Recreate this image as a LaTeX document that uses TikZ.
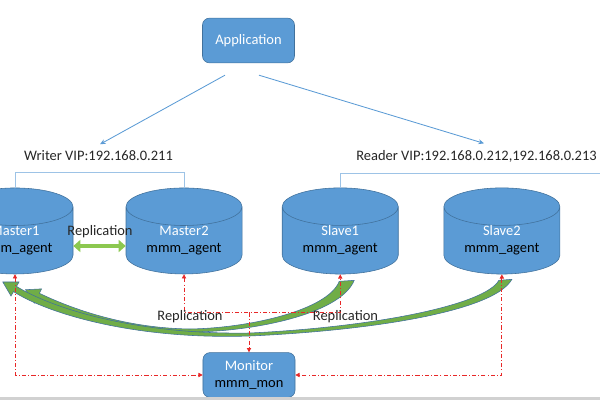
\documentclass[tikz,border=0pt]{standalone}
\usepackage{fontspec}
\setmainfont{Carlito}
\usepackage{tikz}
\usetikzlibrary{shapes.geometric, arrows.meta, positioning, calc}
\definecolor{dbblue}{RGB}{91,155,213}
\definecolor{dbline}{RGB}{65,113,156}
\definecolor{viplink}{RGB}{157,195,230}
\definecolor{monred}{RGB}{232,40,40}
\definecolor{replgreen}{RGB}{112,173,71}
\definecolor{repllight}{RGB}{140,200,80}
\newcommand{\diagfont}{\fontsize{10.3}{12.1}\selectfont}
\tikzset{
  boxnode/.style={
    rectangle, rounded corners=5pt, minimum width=2.3cm, minimum height=1.12cm,
    draw=dbline, fill=dbblue, align=center, font=\diagfont, inner sep=1pt
  },
  dbnode/.style={
    cylinder, shape border rotate=90, aspect=0.5, minimum width=2.9cm,
    minimum height=2.15cm, draw=dbline, fill=dbblue, align=center,
    font=\diagfont, inner sep=0pt
  },
  viptext/.style={font=\diagfont, inner sep=1pt, text=black!85},
  repltext/.style={font=\diagfont, inner sep=1pt, text=black!85},
  apparrow/.style={-{Stealth[length=4pt,width=3.5pt]}, draw=dbblue, line width=0.6pt},
  vipline/.style={draw=viplink, line width=0.7pt},
  monlink/.style={{Triangle[length=3pt,width=3pt]}-{Triangle[length=3pt,width=3pt]},
    draw=monred, line width=0.6pt, dash pattern=on 3pt off 1.5pt on 0.7pt off 1.5pt},
  monhead/.style={-{Triangle[length=3pt,width=3pt]},
    draw=monred, line width=0.6pt, dash pattern=on 3pt off 1.5pt on 0.7pt off 1.5pt},
  replarrow/.style={{Triangle[length=5pt,width=8.5pt]}-{Triangle[length=5pt,width=8.5pt]},
    draw=repllight, line width=3.5pt},
  replband/.style={fill=replgreen, draw=dbline, line width=0.4pt}
}
\begin{document}
\begin{tikzpicture}[x=0.025cm, y=-0.025cm]
  \useasboundingbox (0,0) rectangle (600,400);
  \clip (0,0) rectangle (600,400);

  % Application and VIPs
  \node[boxnode] (app) at (248.5,40.5) {\textcolor{white}{Application}};
  \node[viptext] (wvip) at (98.5,156) {Writer VIP:192.168.0.211};
  \node[viptext] (rvip) at (476.5,156) {Reader VIP:192.168.0.212,192.168.0.213};

  % Databases
  \node[dbnode] (m1) at (15,240.5) {\textcolor{white}{Master1}\\mmm\_agent};
  \node[dbnode, right=1.31cm of m1] (m2) {\textcolor{white}{Master2}\\mmm\_agent};
  \node[dbnode, right=0.99cm of m2] (s1) {\textcolor{white}{Slave1}\\mmm\_agent};
  \node[dbnode, right=1.125cm of s1] (s2) {\textcolor{white}{Slave2}\\mmm\_agent};

  % Monitor
  \node[boxnode] (mon) at (249,375) {\textcolor{white}{Monitor}\\mmm\_mon};
  \coordinate (bus) at ($(mon.north)+(0,-40)$);
  \coordinate (redge) at (600,173);

  % Application -> VIPs
  \draw[apparrow] ([shift={(-23.5,12)}]app.south) -- ([shift={(1.5,-5)}]wvip.north);
  \draw[apparrow] ([shift={(10.5,12)}]app.south) -- ([shift={(7.5,-5)}]rvip.north);
  \draw[vipline] (m1.north) -- ++(0,-15) -| (m2.north);
  \draw[vipline] (s1.north) |- (redge);

  % Replication master1 <-> master2
  \draw[replarrow] ([shift={(0,5.5)}]m1.east) -- ([shift={(0,5.5)}]m2.west);
  \node[repltext] (rep0) at (100,232) {Replication};

  % Replication slaves <- master1
  \fill[replband] ([shift={(14,6)}]s1.south)
    .. controls (340,315) and (250,332) .. (190,332)
    .. controls (120,332) and (64,311) .. (36.6,298.7)
    -- (34.4,303.1) -- (25.5,289.7) -- (41.6,288.9) -- (39.4,293.3)
    .. controls (66,306) and (120,328) .. (190,329)
    .. controls (250,328) and (328,310) .. ([shift={(-1,7)}]s1.south) -- cycle;
  \fill[replband] ([shift={(10,5)}]s2.south)
    .. controls (495,310) and (380,330) .. (250,336)
    .. controls (130,340) and (45,312) .. (13.5,291.6)
    -- (11,296) -- (2.8,282) -- (19,282) -- (16.5,286.4)
    .. controls (48,306) and (130,335) .. (250,333)
    .. controls (375,327) and (485,305) .. ([shift={(-3,6)}]s2.south) -- cycle;

  % Monitor links
  \draw[monlink] (m1.south) |- (mon.west);
  \draw[monlink] (s2.south) |- (mon.east);
  \draw[monlink] (m2.south) |- (bus) -| (s1.south);
  \draw[monhead] (bus) -- (mon.north);

  \node[repltext] (rep1) at (190,317) {Replication};
  \node[repltext] (rep2) at (345.5,317) {Replication};

  \fill[black!18] (0,397.5) rectangle (600,400);
\end{tikzpicture}
\end{document}
